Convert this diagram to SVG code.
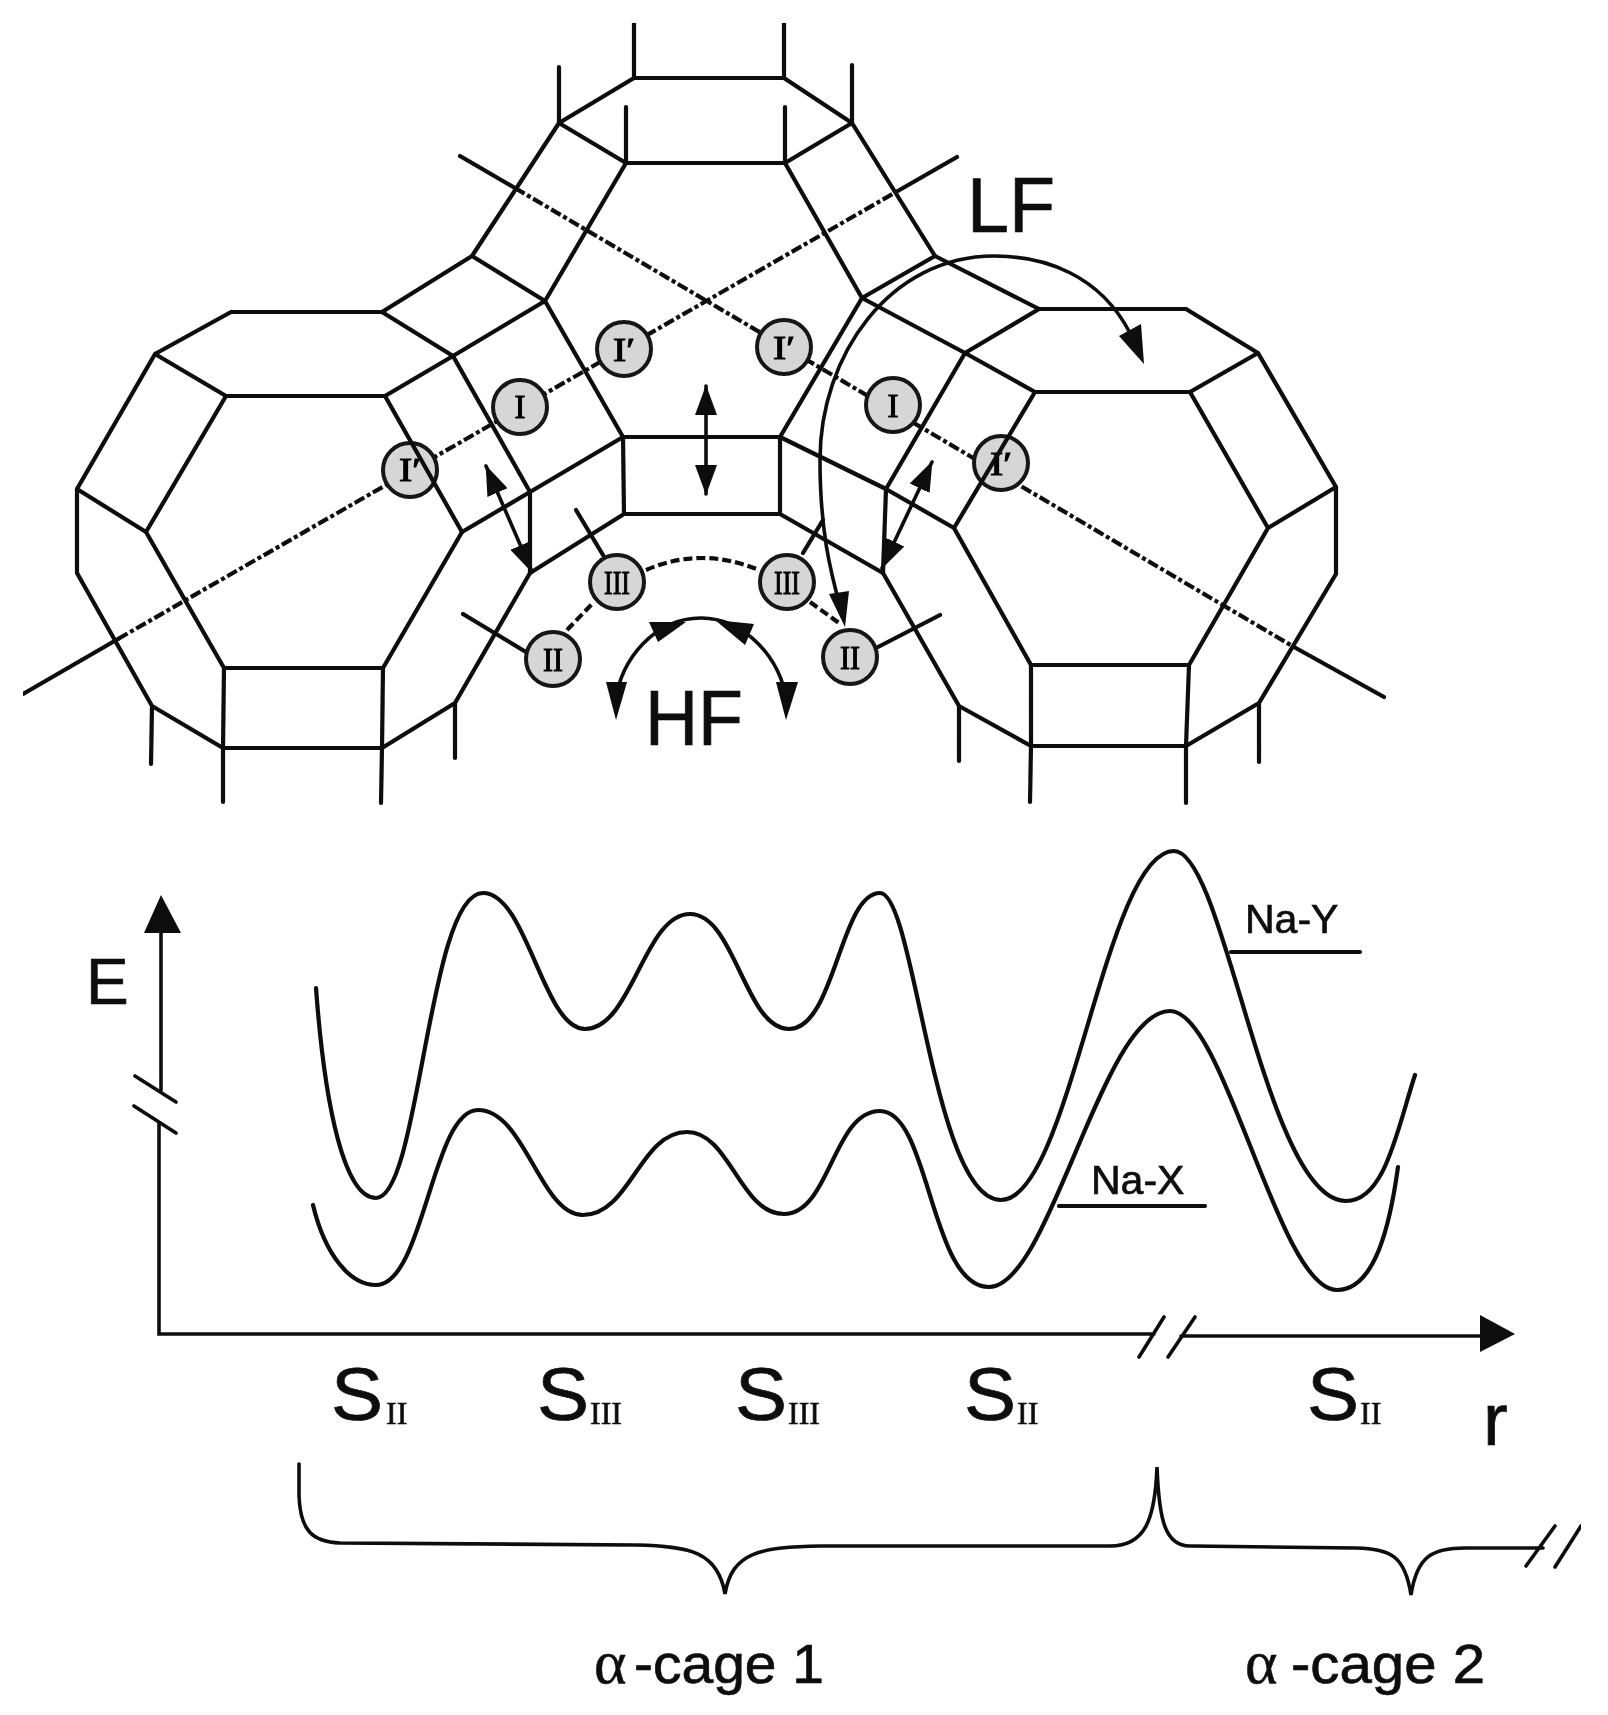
<svg xmlns="http://www.w3.org/2000/svg" width="1608" height="1715" viewBox="0 0 1608 1715">
<defs>
<marker id="head" markerUnits="userSpaceOnUse" markerWidth="32" markerHeight="22" refX="29" refY="11" orient="auto-start-reverse"><path d="M0,0 L30,11 L0,22 Z" fill="#111"/></marker>
<filter id="soft" x="0" y="0" width="1" height="1" filterUnits="objectBoundingBox"><feGaussianBlur stdDeviation="0.7"/></filter>
</defs>
<style>
.f{fill:none;stroke:#0a0a0a;stroke-width:4.2;stroke-linecap:round;stroke-linejoin:round}
.t{fill:none;stroke:#0a0a0a;stroke-width:3.6;stroke-linecap:round}
.dd{fill:none;stroke:#101010;stroke-width:4.2;stroke-dasharray:11 3 4 3}
.d{fill:none;stroke:#101010;stroke-width:4.2;stroke-dasharray:9 4}
.c{fill:#d6d6d6;stroke:#141414;stroke-width:4}
.h{fill:#0a0a0a;stroke:none}
.cl{font-family:"Liberation Serif",serif;font-size:33px;fill:#000;stroke:#000;stroke-width:1;text-anchor:middle}
.s{font-family:"Liberation Sans",Arial,sans-serif;fill:#0a0a0a;stroke:#0a0a0a;stroke-width:.7}
.sub{font-family:"Liberation Serif",serif;font-size:32px;fill:#111;stroke:#111;stroke-width:.6}
.a{font-family:"Liberation Serif",serif;font-size:62px;fill:#111;stroke:#111;stroke-width:.5}
</style>
<rect width="1608" height="1715" fill="#fff"/>
<g filter="url(#soft)">
<g id="connectors">
<path class="dd" d="M118,639 L896,192"/>
<path class="dd" d="M515,188 L1294,647"/>
<path class="f" d="M23,694 L118,639 M896,192 L957,157 M460,156 L515,188 M1294,647 L1384,697"/>
<path class="d" d="M646,570 Q701,546 759,570"/>
<path class="d" d="M567,630 L593,603"/>
<path class="d" d="M810,602 L839,623"/>
<path class="f" d="M576,510 L603,555 M803,553 L823,520 M463,614 L526,652 M878,647 L940,615"/>
</g>
<g id="site-I-prime-1"><circle class="c" cx="624" cy="349" r="27"/><text class="cl" x="624" y="361" textLength="22" lengthAdjust="spacingAndGlyphs">I′</text></g>
<g id="site-I-prime-2"><circle class="c" cx="784" cy="347" r="27"/><text class="cl" x="784" y="359" textLength="22" lengthAdjust="spacingAndGlyphs">I′</text></g>
<g id="site-I-1"><circle class="c" cx="520" cy="407" r="27"/><text class="cl" x="520" y="418">I</text></g>
<g id="site-I-2"><circle class="c" cx="893" cy="405" r="27"/><text class="cl" x="893" y="417">I</text></g>
<g id="site-I-prime-3"><circle class="c" cx="410" cy="470" r="27"/><text class="cl" x="410" y="481" textLength="22" lengthAdjust="spacingAndGlyphs">I′</text></g>
<g id="site-I-prime-4"><circle class="c" cx="1001" cy="463" r="27"/><text class="cl" x="1001" y="475" textLength="22" lengthAdjust="spacingAndGlyphs">I′</text></g>
<g id="site-III-1"><circle class="c" cx="617" cy="582" r="27"/><text class="cl" x="617" y="594" textLength="26" lengthAdjust="spacingAndGlyphs">III</text></g>
<g id="site-III-2"><circle class="c" cx="787" cy="582" r="27"/><text class="cl" x="787" y="594" textLength="26" lengthAdjust="spacingAndGlyphs">III</text></g>
<g id="site-II-1"><circle class="c" cx="553" cy="659" r="27"/><text class="cl" x="553" y="671" textLength="20" lengthAdjust="spacingAndGlyphs">II</text></g>
<g id="site-II-2"><circle class="c" cx="850" cy="657" r="27"/><text class="cl" x="850" y="669" textLength="20" lengthAdjust="spacingAndGlyphs">II</text></g>
<g id="frame-left"><path class="f" d="M231,312 L382,312 L453,356 L385,396 L226,396 L155,354 L231,312 M226,396 L146,532 L224,668 L383,668 L462,532 L385,396 M155,354 L77,489 L146,532 M77,489 L77,573 L152,706 L223,748 L382,748 L455,703 L530,573 M224,668 L223,748 M383,668 L382,748 M152,706 L151,764 M455,703 L455,758 M223,748 L223,802 M382,748 L381,803"/></g>
<g id="frame-top"><path class="f" d="M382,312 L472,256 L545,301 L453,356 M472,256 L559,123 L626,163 L545,301 M559,123 L634,78 L784,78 L852,123 L785,163 L626,163 M559,123 L559,67 M634,78 L634,23 M784,78 L784,23 M626,163 L626,107 M785,163 L785,107 M852,123 L852,65 M545,301 L623,437 L780,437 L862,298 L785,163 M852,123 L935,256 L862,298 M623,437 L624,514 L780,514 L780,437 M453,356 L530,492 L623,437 M462,532 L530,492 L530,573 L624,514 M780,514 L883,573 L886,489 L780,437"/></g>
<g id="frame-right"><path class="f" d="M935,256 L1039,309 L1186,309 L1258,353 L1190,392 L1035,392 L965,353 L1039,309 M862,298 L965,353 L886,489 L954,528 L1035,392 M1190,392 L1268,528 L1189,665 L1031,665 L954,528 M1258,353 L1336,487 L1268,528 M1336,487 L1336,574 L1259,703 L1186,746 L1031,746 L959,706 L883,573 M1031,665 L1031,746 M1189,665 L1186,746 M959,706 L959,761 M1259,703 L1259,762 M1031,746 L1030,802 M1186,746 L1186,803"/></g>
<g id="migration-arrows">
<path class="t" d="M706,386 L706,494" marker-start="url(#head)" marker-end="url(#head)"/>
<path class="t" d="M486,466 L532,572" marker-start="url(#head)" marker-end="url(#head)"/>
<path class="t" d="M932,462 L882,568" marker-start="url(#head)" marker-end="url(#head)"/>
<path class="t" d="M1130,333 C1100,275 1045,256 994,256 C890,256 820,355 820,460 C820,530 830,570 841,610"/>
<polygon class="h" points="1144,364 1119,336 1141,324"/>
<polygon class="h" points="845,627 829,594 849,591"/>
<path class="t" d="M616,700 C620,660 655,618 701,618 C745,618 782,660 786,700"/>
<polygon class="h" points="649,622 658,642 686,622"/>
<polygon class="h" points="715,620 754,624 745,645"/>
<polygon class="h" points="616,720 606,682 627,682"/>
<polygon class="h" points="786,720 776,682 798,682"/>
</g>
<text class="s" x="967" y="232" font-size="78" textLength="88" lengthAdjust="spacingAndGlyphs">LF</text>
<text class="s" x="645" y="745" font-size="77" textLength="98" lengthAdjust="spacingAndGlyphs">HF</text>
<g id="axes">
<path class="t" d="M161,933 L161,1090 M159,1122 L159,1334 L1154,1334 M1181,1336 L1482,1336 M135,1076 L176,1102 M134,1106 L176,1133 M1164,1317 L1139,1357 M1195,1317 L1168,1357"/>
<polygon class="h" points="161,895 144,933 181,933"/>
<polygon class="h" points="1515,1334 1480,1315 1480,1352"/>
</g>
<g id="curve-na-y"><path class="f" d="M316,988 C325,1110 345,1198 376,1198 C420,1198 428,893 483,893 C527,893 543,1029 585,1029 C632,1029 644,914 690,914 C735,914 745,1029 789,1029 C835,1029 840,893 880,893 C915,893 933,1200 1001,1200 C1070,1200 1105,851 1174,851 C1225,851 1266,1201 1346,1201 C1385,1201 1397,1130 1415,1075"/></g>
<g id="curve-na-x"><path class="f" d="M313,1205 C325,1255 350,1285 376,1285 C424,1285 432,1110 478,1110 C525,1110 540,1215 583,1215 C630,1215 640,1132 687,1132 C730,1132 740,1214 784,1214 C830,1214 833,1111 880,1111 C930,1111 930,1287 989,1287 C1050,1287 1102,1011 1170,1011 C1225,1011 1278,1290 1337,1290 C1375,1290 1390,1225 1398,1167"/></g>
<path class="f" d="M1231,952 L1360,952 M1059,1206 L1205,1206"/>
<text class="s" x="1245" y="933" font-size="41">Na-Y</text>
<text class="s" x="1091" y="1194" font-size="41">Na-X</text>
<text class="s" x="86" y="1004" font-size="64">E</text>
<text class="s" x="1483" y="1445" font-size="74">r</text>
<text class="s" x="331" y="1420" font-size="74" textLength="52" lengthAdjust="spacingAndGlyphs">S</text><text class="sub" x="386" y="1424">II</text>
<text class="s" x="537" y="1420" font-size="74" textLength="52" lengthAdjust="spacingAndGlyphs">S</text><text class="sub" x="590" y="1424">III</text>
<text class="s" x="735" y="1420" font-size="74" textLength="52" lengthAdjust="spacingAndGlyphs">S</text><text class="sub" x="788" y="1424">III</text>
<text class="s" x="964" y="1420" font-size="74" textLength="52" lengthAdjust="spacingAndGlyphs">S</text><text class="sub" x="1017" y="1424">II</text>
<text class="s" x="1307" y="1420" font-size="74" textLength="52" lengthAdjust="spacingAndGlyphs">S</text><text class="sub" x="1360" y="1424">II</text>
<g id="brace"><path class="t" d="M299,1464 L299,1495 C300,1530 312,1542 340,1543 L636,1545 C690,1546 718,1552 725,1594 C732,1552 760,1547 822,1546 L1110,1546 C1145,1546 1155,1520 1157,1467 C1159,1520 1165,1546 1190,1546 L1356,1548 C1390,1549 1405,1555 1411,1595 C1417,1556 1432,1548 1466,1548 L1543,1548 M1555,1526 L1526,1566 M1581,1526 L1555,1567"/></g>
<text class="a" x="594" y="1683">α</text>
<text class="s" x="634" y="1683" font-size="56" textLength="190" lengthAdjust="spacingAndGlyphs">-cage 1</text>
<text class="a" x="1245" y="1683">α</text>
<text class="s" x="1291" y="1683" font-size="56" textLength="194" lengthAdjust="spacingAndGlyphs">-cage 2</text>
</g>
</svg>
